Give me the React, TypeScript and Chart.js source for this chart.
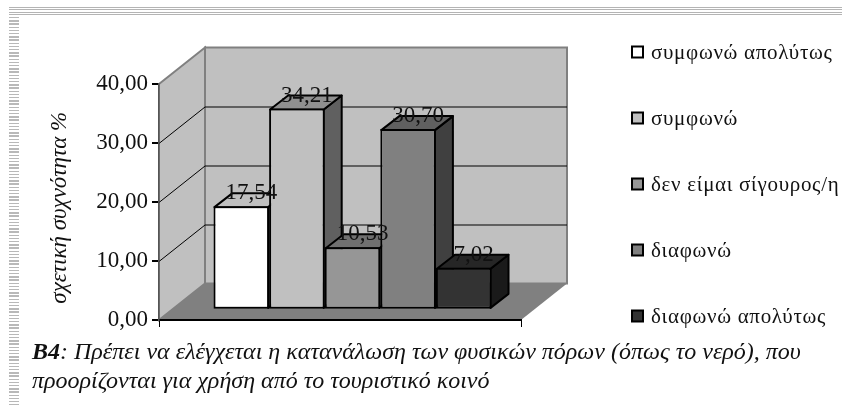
import React, { useEffect, useRef } from "react";
import { Chart, registerables } from "chart.js";

Chart.register(...registerables);

const categories = [""];
const seriesLabels = ["συμφωνώ απολύτως", "συμφωνώ", "δεν είμαι σίγουρος/η", "διαφωνώ", "διαφωνώ απολύτως"];
const seriesValues = [17.54, 34.21, 10.53, 30.7, 7.02];
const seriesColors = ["#ffffff", "#c0c0c0", "#969696", "#808080", "#333333"];
const topColors = ["#c0c0c0", "#909090", "#707070", "#606060", "#262626"];
const sideColors = ["#808080", "#606060", "#4b4b4b", "#404040", "#1a1a1a"];
const yTitle = "σχετική συχνότητα %";

const SERIF = "'Liberation Serif', serif";
const WALL_DX = 46;
const WALL_DY = 36.5;
const BAR_DX = 18;
const BAR_DY = 14;
const BAR_SHIFT = 12.5;

const fmt = (v: number) => v.toFixed(2).replace(".", ",");

const poly = (ctx: CanvasRenderingContext2D, pts: number[][], fill: string, stroke: string, lw: number) => {
  ctx.beginPath();
  pts.forEach((p, i) => (i ? ctx.lineTo(p[0], p[1]) : ctx.moveTo(p[0], p[1])));
  ctx.closePath();
  ctx.fillStyle = fill;
  ctx.fill();
  if (lw > 0) {
    ctx.strokeStyle = stroke;
    ctx.lineWidth = lw;
    ctx.stroke();
  }
};

const scene = {
  id: "scene",
  beforeDraw(chart: any) {
    const { ctx, chartArea: a, scales } = chart;
    const { left: l, right: r, top: t, bottom: b } = a;
    ctx.save();
    poly(ctx, [[l + WALL_DX, t - WALL_DY], [r + WALL_DX, t - WALL_DY], [r + WALL_DX, b - WALL_DY], [l + WALL_DX, b - WALL_DY]], "#c0c0c0", "#808080", 2);
    poly(ctx, [[l, t], [l + WALL_DX, t - WALL_DY], [l + WALL_DX, b - WALL_DY], [l, b]], "#c0c0c0", "#808080", 2);
    poly(ctx, [[l, b], [l + WALL_DX, b - WALL_DY], [r + WALL_DX, b - WALL_DY], [r, b]], "#808080", "#808080", 0);
    ctx.strokeStyle = "#000";
    ctx.lineWidth = 1;
    scales.y.ticks.forEach((tick: any) => {
      if (tick.value === 0 || tick.value === 40) return;
      const y = Math.round(scales.y.getPixelForValue(tick.value)) + 0.5;
      ctx.beginPath();
      ctx.moveTo(l, y);
      ctx.lineTo(l + WALL_DX, y - WALL_DY);
      ctx.lineTo(r + WALL_DX, y - WALL_DY);
      ctx.stroke();
    });
    ctx.restore();
  },
  beforeDatasetsDraw(chart: any) {
    const { ctx } = chart;
    ctx.save();
    ctx.translate(BAR_SHIFT, 0);
    ctx.lineJoin = "round";
    chart.data.datasets.forEach((_: any, i: number) => {
      const bar = chart.getDatasetMeta(i).data[0];
      const x0 = bar.x - bar.width / 2 + 1;
      const x1 = bar.x + bar.width / 2 - 1;
      const top = bar.y + 1;
      const base = bar.base - 1;
      poly(ctx, [[x1, top], [x1 + BAR_DX, top - BAR_DY], [x1 + BAR_DX, base - BAR_DY], [x1, base]], sideColors[i], "#000", 2);
      poly(ctx, [[x0, top], [x0 + BAR_DX, top - BAR_DY], [x1 + BAR_DX, top - BAR_DY], [x1, top]], topColors[i], "#000", 2);
    });
    ctx.restore();
  },
  beforeDatasetDraw(chart: any) {
    chart.ctx.save();
    chart.ctx.translate(BAR_SHIFT, 0);
  },
  afterDatasetDraw(chart: any) {
    chart.ctx.restore();
  },
  afterDraw(chart: any) {
    const { ctx } = chart;
    ctx.save();
    // value labels
    ctx.font = `23px ${SERIF}`;
    ctx.fillStyle = "#111";
    ctx.textAlign = "center";
    ctx.textBaseline = "middle";
    chart.data.datasets.forEach((ds: any, i: number) => {
      const bar = chart.getDatasetMeta(i).data[0];
      ctx.fillText(fmt(ds.data[0]), bar.x + BAR_SHIFT + 10, bar.y - 13);
    });
    // legend
    ctx.textAlign = "left";
    ctx.font = `21px ${SERIF}`;
    (ctx as any).letterSpacing = "0.7px";
    chart.data.datasets.forEach((ds: any, i: number) => {
      const cy = 52 + i * 66;
      ctx.fillStyle = ds.backgroundColor;
      ctx.strokeStyle = "#000";
      ctx.lineWidth = 2;
      ctx.fillRect(632, cy - 5.5, 11, 11);
      ctx.strokeRect(632, cy - 5.5, 11, 11);
      ctx.fillStyle = "#111";
      ctx.fillText(ds.label, 651, cy + 1);
    });
    ctx.restore();
  },
};

export default function App() {
  const ref = useRef<HTMLCanvasElement>(null);
  useEffect(() => {
    const chart = new Chart(ref.current as HTMLCanvasElement, {
      type: "bar",
      data: {
        labels: categories,
        datasets: seriesLabels.map((label, i) => ({
          label,
          data: [seriesValues[i]],
          backgroundColor: seriesColors[i],
          borderColor: "#000",
          borderWidth: 2,
          borderSkipped: false,
          yAxisID: "yBars",
          clip: false as any,
        })),
      },
      options: {
        responsive: false,
        animation: false,
        layout: { padding: { left: 46, top: 84, bottom: 77, right: 321 } },
        datasets: { bar: { barPercentage: 1, categoryPercentage: 0.768 } },
        plugins: { legend: { display: false }, tooltip: { enabled: false } },
        scales: {
          x: {
            offset: true,
            grid: { offset: true, drawOnChartArea: false, tickLength: 7, tickColor: "#000", lineWidth: 1 },
            border: { color: "#000", width: 2 },
            ticks: { display: false },
            afterFit: (s: any) => { s.height = 8; },
          },
          y: {
            min: 0,
            max: 40,
            grid: { drawOnChartArea: false, tickLength: 7, tickColor: "#000", lineWidth: 2 },
            border: { color: "#555", width: 1.5 },
            ticks: { stepSize: 10, padding: 4, color: "#111", font: { family: SERIF, size: 23 }, callback: (v: any) => fmt(Number(v)) },
            title: { display: true, text: yTitle + "  ", color: "#111", padding: 0, font: { family: SERIF, size: 23, style: "italic" } },
            afterFit: (s: any) => { s.width = 113; },
          },
          yBars: { display: false, min: -1.9, max: 38.4 },
        },
      },
      plugins: [scene],
    } as any);
    return () => chart.destroy();
  }, []);

  const stripes = "repeating-linear-gradient(to bottom, #b8b8b8 0 1.4px, #ffffff 1.4px 3.2px)";
  return (
    <div style={{ position: "absolute", left: 0, top: 0, width: 842, height: 405, overflow: "hidden", background: "#fff" }}>
      <canvas ref={ref} width={842} height={405} style={{ position: "absolute", left: 0, top: 0 }} />
      {[7, 9, 12, 14].map((t) => (
        <div key={t} style={{ position: "absolute", left: 9, top: t, right: 0, height: 1, background: "#b4b4b4" }} />
      ))}
      <div style={{ position: "absolute", left: 9, top: 17, width: 10, bottom: 0, background: stripes }} />
      <div style={{ position: "absolute", left: 32, top: 337, width: 800, fontFamily: SERIF, fontStyle: "italic", fontSize: 24, lineHeight: "29px", color: "#111", whiteSpace: "nowrap" }}>
        <b>B4</b>: Πρέπει να ελέγχεται η κατανάλωση των φυσικών πόρων (όπως το νερό), που
        <br />
        προορίζονται για χρήση από το τουριστικό κοινό
      </div>
    </div>
  );
}
